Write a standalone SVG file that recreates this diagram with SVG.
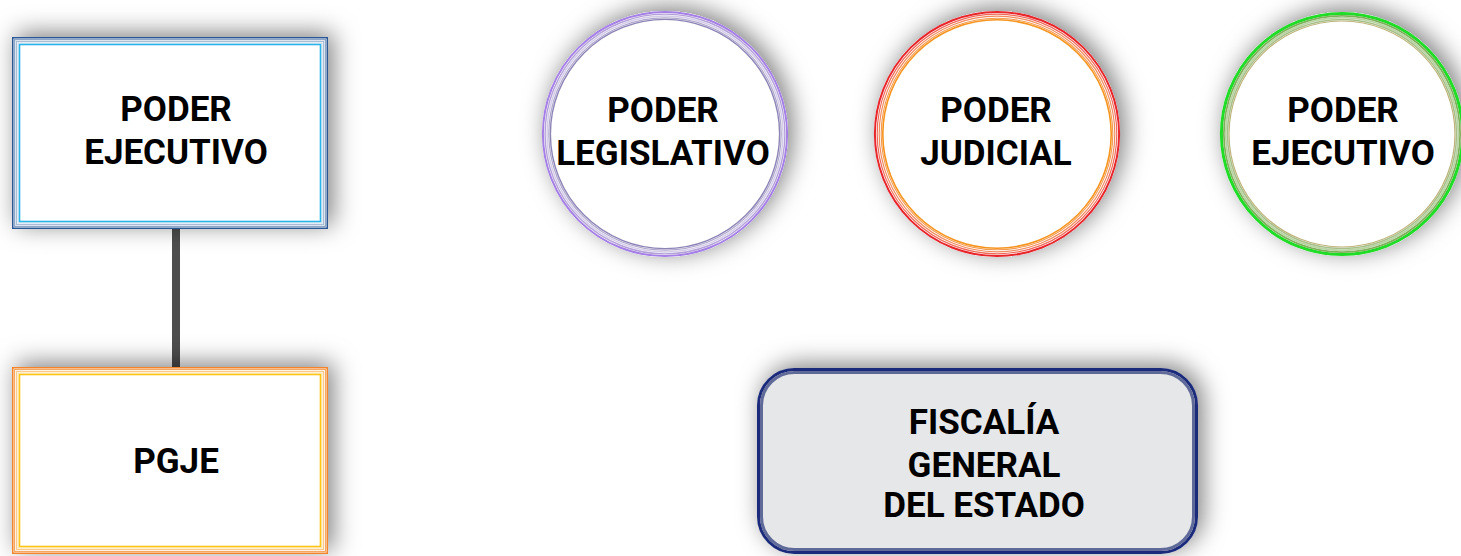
<svg xmlns="http://www.w3.org/2000/svg" width="1461" height="556" viewBox="0 0 1461 556">
<style>
text{font-family:Roboto,"Liberation Sans",sans-serif;font-weight:700;font-size:35px;fill:#000;text-anchor:middle}
.n{fill:none}
</style>
<defs>
<filter id="sh" x="-30%" y="-30%" width="160%" height="160%">
<feDropShadow dx="5" dy="-4" stdDeviation="12" flood-color="#000" flood-opacity="0.5"/>
</filter>
</defs>
<g id="connectors">
<line x1="176" y1="229" x2="176" y2="367" stroke="#4d4d4d" stroke-width="8"/>
</g>
<g id="box-ejecutivo">
<rect x="12" y="37" width="316" height="192" fill="#fff" filter="url(#sh)"/>
<rect class="n" x="12.75" y="37.75" width="314.5" height="190.5" stroke="#2b5797" stroke-width="1.5"/>
<rect class="n" x="14.5" y="39.5" width="311" height="187" stroke="#8ea6c6" stroke-width="1.5"/>
<rect class="n" x="16.5" y="41.5" width="307" height="183" stroke="#a8bcd6" stroke-width="1.2"/>
<rect class="n" x="18" y="43" width="304" height="180" stroke="#d4e0ee" stroke-width="1"/>
<rect class="n" x="19.5" y="44.5" width="301" height="177" stroke="#29b4ea" stroke-width="1.6"/>
<text x="176" y="121">PODER</text>
<text x="176" y="164">EJECUTIVO</text>
</g>
<g id="box-pgje">
<rect x="12" y="367" width="316" height="187" fill="#fff" filter="url(#sh)"/>
<rect class="n" x="12.75" y="367.75" width="314.5" height="185.5" stroke="#f5832a" stroke-width="1.5"/>
<rect class="n" x="14.5" y="369.5" width="311" height="182" stroke="#f7a860" stroke-width="1.2"/>
<rect class="n" x="16.5" y="371.5" width="307" height="178" stroke="#fbc98a" stroke-width="1.2"/>
<rect class="n" x="18" y="373" width="304" height="175" stroke="#fde2b0" stroke-width="1"/>
<rect class="n" x="19.5" y="374.5" width="301" height="172" stroke="#ffc515" stroke-width="1.6"/>
<text x="176" y="473">PGJE</text>
</g>
<g id="circle-legislativo">
<circle cx="665" cy="134" r="123" fill="#fff" filter="url(#sh)"/>
<circle class="n" cx="665" cy="134" r="122.1" stroke="#a47fe6" stroke-width="2"/>
<circle class="n" cx="665" cy="134" r="119.9" stroke="#b4a0d8" stroke-width="1.4"/>
<circle class="n" cx="665" cy="134" r="118" stroke="#d3cbe8" stroke-width="1.4"/>
<circle class="n" cx="665" cy="134" r="116.2" stroke="#aea6cc" stroke-width="1.2"/>
<circle class="n" cx="665" cy="134" r="114.6" stroke="#8d84b6" stroke-width="1.4"/>
<text x="663" y="122">PODER</text>
<text x="663" y="165">LEGISLATIVO</text>
</g>
<g id="circle-judicial">
<circle cx="997" cy="134" r="123" fill="#fff" filter="url(#sh)"/>
<circle class="n" cx="997" cy="134" r="122.1" stroke="#e8252b" stroke-width="2"/>
<circle class="n" cx="997" cy="134" r="119.8" stroke="#ef6a5a" stroke-width="1.2"/>
<circle class="n" cx="997" cy="134" r="117.8" stroke="#f28a5e" stroke-width="1.2"/>
<circle class="n" cx="997" cy="134" r="115.8" stroke="#f39a50" stroke-width="1.1"/>
<circle class="n" cx="997" cy="134" r="114.2" stroke="#f7941d" stroke-width="1.6"/>
<text x="996" y="122">PODER</text>
<text x="996" y="165">JUDICIAL</text>
</g>
<g id="circle-ejecutivo">
<circle cx="1342" cy="134" r="122" fill="#fff" filter="url(#sh)"/>
<circle class="n" cx="1342" cy="134" r="120.6" stroke="#1fdc26" stroke-width="3"/>
<circle class="n" cx="1342" cy="134" r="118.1" stroke="#7fb05a" stroke-width="1.8"/>
<circle class="n" cx="1342" cy="134" r="116.3" stroke="#b9d4a4" stroke-width="1.8"/>
<circle class="n" cx="1342" cy="134" r="114.5" stroke="#a8bf88" stroke-width="1.5"/>
<circle class="n" cx="1342" cy="134" r="113" stroke="#bdb47c" stroke-width="1.2"/>
<text x="1343" y="122">PODER</text>
<text x="1343" y="165">EJECUTIVO</text>
</g>
<g id="box-fiscalia">
<rect x="758.5" y="369.5" width="438" height="183" rx="36" fill="#e6e7e9" stroke="#1a2b7c" stroke-width="3" filter="url(#sh)"/>
<rect class="n" x="761.5" y="372.5" width="432" height="177" rx="33" stroke="#5f6a98" stroke-width="3"/>
<text x="984" y="434">FISCALÍA</text>
<text x="984" y="477">GENERAL</text>
<text x="984" y="517">DEL ESTADO</text>
</g>
</svg>
